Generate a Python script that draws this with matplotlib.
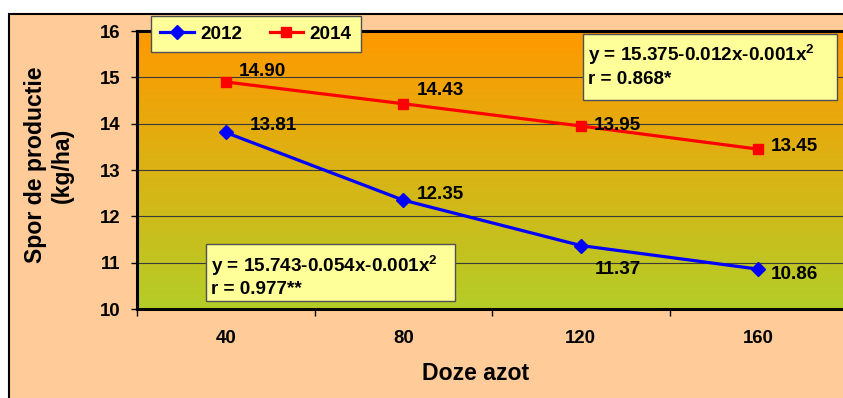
import numpy as np
import matplotlib
matplotlib.use("Agg")
import matplotlib.pyplot as plt
from matplotlib.colors import LinearSegmentedColormap
from matplotlib.patches import Rectangle

plt.rcParams['font.family'] = ['Liberation Sans', 'DejaVu Sans']
plt.rcParams['font.weight'] = 'bold'
plt.rcParams['mathtext.fontset'] = 'custom'
plt.rcParams['mathtext.rm'] = 'Liberation Sans:bold'
plt.rcParams['mathtext.bf'] = 'Liberation Sans:bold'

# Doze de azot si sporul de productie
doze = [40, 80, 120, 160]
spor_2012 = [13.81, 12.35, 11.37, 10.86]
spor_2014 = [14.90, 14.43, 13.95, 13.45]
ani = ['2012', '2014']
ecuatie_2012 = ["y = 15.743-0.054x-0.001x$^{2}$", "r = 0.977**"]
ecuatie_2014 = ["y = 15.375-0.012x-0.001x$^{2}$", "r = 0.868*"]

W, H = 843, 398
fig = plt.figure(figsize=(W / 100, H / 100), dpi=100)
fig.patch.set_facecolor('white')


def px_box(x0, y0, x1, y1):
    # pixel box (top-left origin) -> figure fraction
    return x0 / W, 1 - y1 / H, (x1 - x0) / W, (y1 - y0) / H


# chart area
bx = px_box(9, 14, 860, 420)
fig.add_artist(Rectangle(bx[:2], bx[2], bx[3], transform=fig.transFigure,
                         facecolor='#FFCC99', edgecolor='black', lw=1.5, zorder=0))

pa = px_box(137, 31, 847, 309)
ax = fig.add_axes(pa)
ax.set_xlim(20, 180)
ax.set_ylim(10, 16)

# gradient background
cmap = LinearSegmentedColormap.from_list('fond', ['#B4CD28', '#DAB314', '#FF9900'])
grad = np.linspace(0, 1, 256).reshape(-1, 1)
ax.imshow(grad, extent=[20, 180, 10, 16], origin='lower', aspect='auto',
          cmap=cmap, zorder=0)

ax.set_yticks(range(10, 17))
ax.yaxis.grid(True, color='#3a3a3a', lw=0.8, zorder=1)
ax.set_axisbelow(True)

ax.set_xticks([20, 60, 100, 140, 180])
ax.set_xticklabels([])
ax.set_xticks(doze, minor=True)
ax.set_xticklabels([str(d) for d in doze], minor=True)
ax.tick_params(axis='x', which='major', direction='out', length=5, width=1)
ax.tick_params(axis='x', which='minor', length=0, pad=15, labelsize=13.4)
ax.tick_params(axis='y', direction='out', length=4, width=1, pad=8, labelsize=13.4)
for lbl in ax.get_xticklabels(minor=True) + ax.get_yticklabels():
    lbl.set_fontweight('bold')

for side in ['top', 'bottom', 'left']:
    ax.spines[side].set_linewidth(2.2)
ax.spines['right'].set_visible(False)

l1, = ax.plot(doze, spor_2012, color='#0000FF', lw=2.3, marker='D',
              markersize=7.5, zorder=3, clip_on=False)
l2, = ax.plot(doze, spor_2014, color='#FF0000', lw=2.3, marker='s',
              markersize=7.5, zorder=3, clip_on=False)

# data labels (offsets in pixels)
off_2012 = [(24, 7), (14, 6), (14, -24), (13, -5)]
off_2014 = [(13, 10), (13, 13), (13, 0), (13, 3)]
for xs, ys, offs in [(doze, spor_2012, off_2012), (doze, spor_2014, off_2014)]:
    for x, y, (dx, dy) in zip(xs, ys, offs):
        ax.annotate(f"{y:.2f}", (x, y), xytext=(dx * 0.72, dy * 0.72),
                    textcoords='offset points', ha='left', va='center',
                    fontsize=13.6, fontweight='bold', zorder=4)

# regression boxes
for (x0, y0, x1, y1), lines, ty in [((583, 34, 837, 100), ecuatie_2014, (55, 80)),
                                     ((206, 244, 455, 301), ecuatie_2012, (266, 290))]:
    b = px_box(x0, y0, x1, y1)
    fig.add_artist(Rectangle(b[:2], b[2], b[3], transform=fig.transFigure,
                             facecolor='#FFFF99', edgecolor='#505050', lw=1, zorder=5))
    for txt, yy in zip(lines, ty):
        fig.text((x0 + 5) / W, 1 - yy / H, txt, ha='left', va='center',
                 fontsize=13.6, fontweight='bold', zorder=6)

leg = ax.legend([l1, l2], ani, loc='upper left', ncol=2,
                bbox_to_anchor=(151 / W, 1 - 16 / H), bbox_transform=fig.transFigure,
                borderaxespad=0, fancybox=False, framealpha=1, facecolor='#FFFF99',
                edgecolor='#505050', prop={'size': 13.6, 'weight': 'bold'},
                handlelength=1.75, handletextpad=0.35, columnspacing=1.45,
                borderpad=0.5)
leg.get_frame().set_linewidth(1)
leg.set_zorder(6)

fig.text(476 / W, 1 - 373 / H, "Doze azot", ha='center', va='center',
         fontsize=16.6, fontweight='bold')
fig.text(49 / W, 1 - 165 / H, "Spor de productie\n(kg/ha)", ha='center', va='center',
         rotation=90, fontsize=16.6, fontweight='bold', linespacing=1.2)

fig.savefig('out.png', dpi=100, facecolor='white')
